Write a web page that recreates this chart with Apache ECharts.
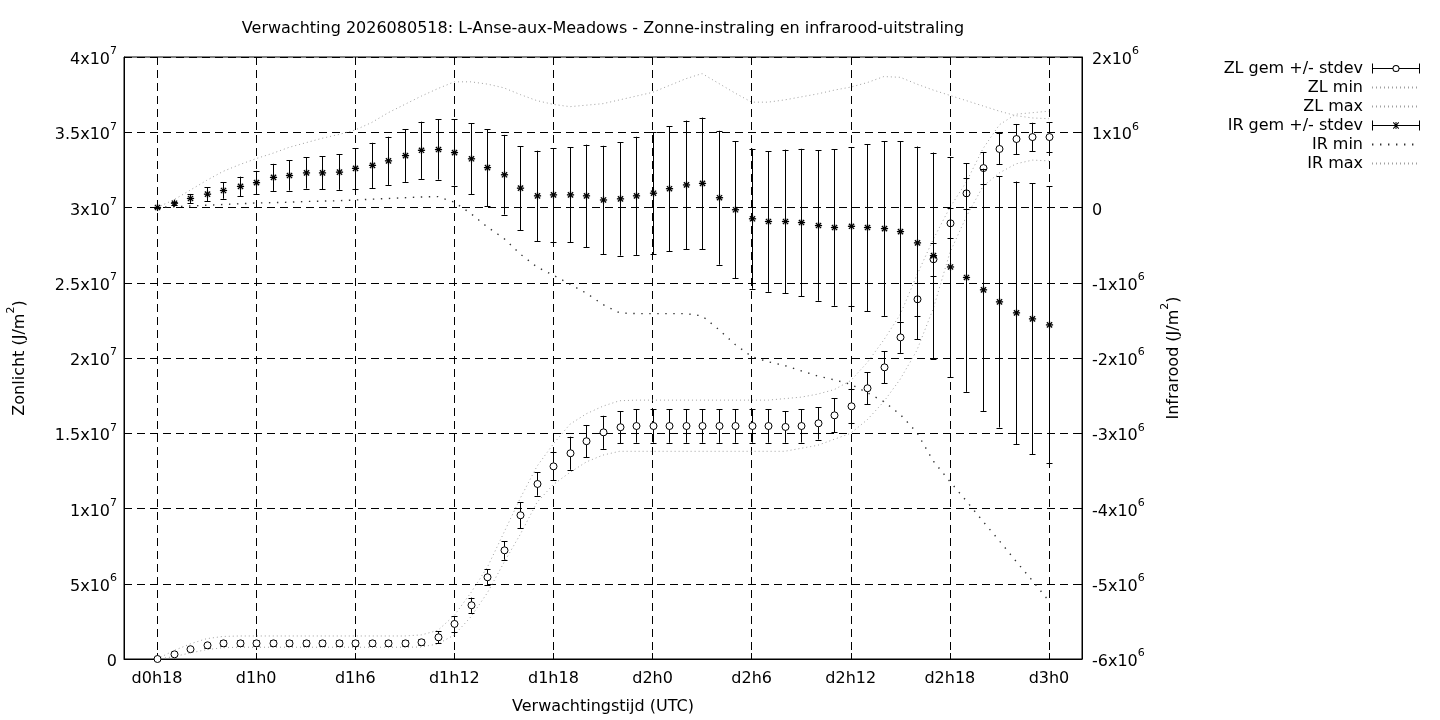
<!DOCTYPE html>
<html>
<head>
<meta charset="utf-8">
<script src="https://cdn.jsdelivr.net/npm/echarts@6/dist/echarts.min.js"></script>
<style>
html,body{margin:0;padding:0;background:#fff;}
#chart{width:1440px;height:720px;}
</style>
</head>
<body>
<div id="chart"></div>
<script>
// ---- data (ZL in 1e6 J/m2, IR in 1e6 J/m2) ----
const tickLabels = ['d0h18','d1h0','d1h6','d1h12','d1h18','d2h0','d2h6','d2h12','d2h18','d3h0'];

const zlMean = [0, 0.31, 0.65, 0.91, 1.04, 1.04, 1.04, 1.04, 1.04, 1.04,
  1.04, 1.04, 1.04, 1.04, 1.04, 1.04, 1.11, 1.44, 2.33, 3.57,
  5.43, 7.22, 9.55, 11.63, 12.8, 13.67, 14.47, 15.06, 15.4, 15.48,
  15.48, 15.48, 15.48, 15.48, 15.48, 15.48, 15.48, 15.48, 15.42, 15.48,
  15.66, 16.19, 16.79, 17.99, 19.38, 21.37, 23.9, 26.56, 28.95, 30.94,
  32.62, 33.89, 34.55, 34.68, 34.68];
const zlStd = [0, 0.03, 0.08, 0.15, 0.19, 0.19, 0.19, 0.19, 0.19, 0.19,
  0.19, 0.19, 0.19, 0.19, 0.19, 0.19, 0.21, 0.41, 0.52, 0.51,
  0.53, 0.62, 0.86, 0.78, 0.93, 1.1, 1.08, 1.1, 1.05, 1.11,
  1.11, 1.11, 1.11, 1.11, 1.11, 1.11, 1.11, 1.11, 1.05, 1.1,
  1.08, 1.14, 1.14, 1.06, 1.06, 1.03, 1.08, 1.08, 1.0, 1.02,
  1.07, 1.03, 1.0, 0.95, 0.97];
const zlMin = [0, 0.15, 0.4, 0.62, 0.75, 0.78, 0.78, 0.78, 0.78, 0.78,
  0.78, 0.78, 0.78, 0.78, 0.78, 0.78, 0.8, 1.0, 1.6, 2.8,
  4.4, 6.4, 8.3, 10.4, 11.6, 12.4, 13.1, 13.55, 13.8, 13.8,
  13.8, 13.8, 13.8, 13.8, 13.8, 13.8, 13.8, 13.8, 13.8, 14.0,
  14.2, 14.6, 15.0, 15.9, 17.1, 18.6, 20.5, 23.3, 27.0, 29.4,
  31.4, 32.3, 32.9, 33.15, 33.1];
const zlMax = [0, 0.55, 1.0, 1.35, 1.5, 1.53, 1.53, 1.53, 1.53, 1.53,
  1.53, 1.53, 1.53, 1.53, 1.53, 1.53, 1.6, 1.9, 2.9, 4.4,
  6.1, 8.4, 10.7, 12.8, 14.3, 15.6, 16.3, 16.8, 17.16, 17.2,
  17.2, 17.2, 17.2, 17.2, 17.2, 17.2, 17.2, 17.2, 17.3, 17.4,
  17.6, 17.9, 18.5, 19.7, 21.2, 22.9, 25.5, 27.9, 30.0, 31.7,
  33.9, 35.5, 36.2, 36.3, 36.4];

const irMean = [0, 0.057, 0.12, 0.177, 0.226, 0.28, 0.33, 0.40, 0.425, 0.46,
  0.46, 0.47, 0.52, 0.56, 0.62, 0.69, 0.76, 0.77, 0.73, 0.647,
  0.53, 0.435, 0.257, 0.155, 0.168, 0.168, 0.155, 0.10, 0.115, 0.155,
  0.19, 0.25, 0.30, 0.32, 0.13, -0.03, -0.15, -0.186, -0.186, -0.20,
  -0.24, -0.266, -0.25, -0.266, -0.28, -0.32, -0.47, -0.64, -0.79, -0.93,
  -1.094, -1.254, -1.40, -1.48, -1.56];
const irStd = [0, 0.02, 0.06, 0.09, 0.11, 0.13, 0.157, 0.18, 0.20, 0.21,
  0.22, 0.235, 0.27, 0.30, 0.32, 0.35, 0.38, 0.40, 0.44, 0.47,
  0.51, 0.53, 0.56, 0.60, 0.62, 0.63, 0.68, 0.72, 0.755, 0.785,
  0.81, 0.83, 0.855, 0.875, 0.89, 0.91, 0.93, 0.935, 0.955, 0.98,
  1.0, 1.04, 1.054, 1.11, 1.16, 1.2, 1.28, 1.37, 1.46, 1.52,
  1.61, 1.67, 1.745, 1.80, 1.84];
const irMin = [0, 0.01, 0.02, 0.03, 0.04, 0.05, 0.06, 0.065, 0.07, 0.08,
  0.085, 0.09, 0.10, 0.11, 0.12, 0.13, 0.14, 0.145, 0.07, -0.08,
  -0.26, -0.41, -0.62, -0.79, -0.90, -1.02, -1.14, -1.29, -1.40, -1.41,
  -1.41, -1.41, -1.41, -1.44, -1.62, -1.82, -1.98, -2.05, -2.10, -2.17,
  -2.24, -2.29, -2.35, -2.46, -2.58, -2.75, -2.99, -3.37, -3.64, -3.9,
  -4.17, -4.43, -4.70, -4.96, -5.23];
const irMax = [0, 0.1, 0.23, 0.36, 0.48, 0.57, 0.65, 0.72, 0.80, 0.86,
  0.92, 0.97, 1.03, 1.13, 1.26, 1.37, 1.48, 1.58, 1.67, 1.67,
  1.64, 1.59, 1.50, 1.42, 1.37, 1.34, 1.36, 1.38, 1.43, 1.48,
  1.53, 1.62, 1.71, 1.78, 1.65, 1.52, 1.40, 1.40, 1.43, 1.47,
  1.51, 1.56, 1.60, 1.66, 1.74, 1.73, 1.64, 1.56, 1.49, 1.42,
  1.35, 1.28, 1.22, 1.19, 1.18];

// ---- categories: hourly from d0h16 to d3h2 (axis padding two hours each side) ----
const categories = [];
for (let h = 16; h <= 74; h++) categories.push('d' + Math.floor(h / 24) + 'h' + (h % 24));
const times = categories.slice(2, 2 + zlMean.length);

const FONT = 'DejaVu Sans';
const FS = 16;
const showTick = (idx, val) => tickLabels.indexOf(val) >= 0;

function pairs(vals) { return times.map((t, i) => [t, vals[i]]); }
function bars(mean, sd) { return times.map((t, i) => [t, mean[i], mean[i] - sd[i], mean[i] + sd[i]]); }

function errorBarItem(marker) {
  return function (params, api) {
    const x = api.value(0);
    const c = api.coord([x, api.value(1)]);
    const lo = api.coord([x, api.value(2)]);
    const hi = api.coord([x, api.value(3)]);
    const px = Math.round(c[0]) + 0.5;
    const st = { stroke: '#000', lineWidth: 1, fill: null };
    const kids = [
      { type: 'line', shape: { x1: px, y1: hi[1], x2: px, y2: lo[1] }, style: st },
      { type: 'line', shape: { x1: px - 3, y1: Math.round(hi[1]) + 0.5, x2: px + 3, y2: Math.round(hi[1]) + 0.5 }, style: st },
      { type: 'line', shape: { x1: px - 3, y1: Math.round(lo[1]) + 0.5, x2: px + 3, y2: Math.round(lo[1]) + 0.5 }, style: st }
    ];
    const cy = c[1];
    if (marker === 'circle') {
      kids.push({ type: 'circle', shape: { cx: px, cy: cy, r: 3.5 }, style: { fill: '#fff', stroke: '#000', lineWidth: 1 } });
    } else {
      const s = 3.6, d = 2.6;
      const st2 = { stroke: '#000', lineWidth: 1.3, fill: null };
      kids.push({ type: 'line', shape: { x1: px - s, y1: cy, x2: px + s, y2: cy }, style: st2 });
      kids.push({ type: 'line', shape: { x1: px, y1: cy - s, x2: px, y2: cy + s }, style: st2 });
      kids.push({ type: 'line', shape: { x1: px - d, y1: cy - d, x2: px + d, y2: cy + d }, style: st2 });
      kids.push({ type: 'line', shape: { x1: px - d, y1: cy + d, x2: px + d, y2: cy - d }, style: st2 });
    }
    return { type: 'group', children: kids };
  };
}

function leftFmt(v) {
  if (v === 0) return '{n|0}';
  const exp = v >= 10 ? 7 : 6;
  const m = v / Math.pow(10, exp - 6);
  return '{n|' + m + 'x10}{s|' + exp + '}';
}
function rightFmt(v) {
  if (v === 0) return '{n|0}';
  return '{n|' + v + 'x10}{s|6}';
}
const richSup = {
  n: { fontSize: FS, fontFamily: FONT, color: '#000', lineHeight: 22, verticalAlign: 'bottom' },
  s: { fontSize: 11, fontFamily: FONT, color: '#000', lineHeight: 13, verticalAlign: 'top' }
};

const zlIcon = 'path://M0 0H1V10H0Z M47 0H48V10H47Z M0 4.5H20.6V5.5H0Z M27.4 4.5H48V5.5H27.4Z ' +
  'M27.5 5A3.5 3.5 0 1 1 20.5 5A3.5 3.5 0 1 1 27.5 5Z M26.5 5A2.5 2.5 0 1 0 21.5 5A2.5 2.5 0 1 0 26.5 5Z';
const irIcon = 'path://M0 0H1V10H0Z M47 0H48V10H47Z M0 4.5H48V5.5H0Z M23.5 1.4H24.5V8.6H23.5Z ' +
  'M20.9 2.3L21.6 1.6L27.1 7.7L26.4 8.4Z M26.4 1.6L27.1 2.3L21.6 8.4L20.9 7.7Z';

const dotGrey = { color: '#a0a0a0', width: 1, type: [1, 3] };
const dotDark = { color: '#333', width: 1.4, type: [1.4, 6.6] };
const noSymbol = { color: 'rgba(0,0,0,0)', borderWidth: 0, opacity: 0 };

const chart = echarts.init(document.getElementById('chart'), null, { renderer: 'canvas' });
chart.setOption({
  animation: false,
  backgroundColor: '#fff',
  textStyle: { fontFamily: FONT, color: '#000' },
  title: {
    text: 'Verwachting 2026080518: L-Anse-aux-Meadows - Zonne-instraling en infrarood-uitstraling',
    left: 598, top: 16, textAlign: 'center',
    textStyle: { fontSize: FS, fontWeight: 'normal', color: '#000', fontFamily: FONT }
  },
  legend: {
    orient: 'vertical', right: 14, top: 55, align: 'right',
    itemWidth: 48, itemHeight: 10, itemGap: 2,
    selectedMode: false,
    itemStyle: { borderWidth: 0 },
    textStyle: { fontSize: FS, color: '#000', fontFamily: FONT, lineHeight: 17, padding: [0, 4, 0, 0] },
    data: [
      { name: 'ZL gem +/- stdev', icon: zlIcon },
      { name: 'ZL min', itemStyle: noSymbol },
      { name: 'ZL max', itemStyle: noSymbol },
      { name: 'IR gem +/- stdev', icon: irIcon },
      { name: 'IR min', itemStyle: noSymbol },
      { name: 'IR max', itemStyle: noSymbol }
    ]
  },
  grid: { left: 124, right: 358, top: 57, bottom: 61, show: true, borderColor: '#000', borderWidth: 1,
    backgroundColor: 'transparent', containLabel: false, outerBoundsMode: 'none' },
  xAxis: {
    type: 'category', data: categories, boundaryGap: false,
    axisLine: { lineStyle: { color: '#000', width: 1 } },
    axisTick: { show: true, inside: true, length: 6, interval: showTick, lineStyle: { color: '#000' } },
    axisLabel: { interval: showTick, margin: 12, fontSize: FS, color: '#000', fontFamily: FONT },
    splitLine: { show: true, interval: showTick, lineStyle: { color: '#000', width: 1, type: [8, 5] } },
    name: 'Verwachtingstijd (UTC)', nameLocation: 'middle', nameGap: 40,
    nameTextStyle: { fontSize: FS, color: '#000', fontFamily: FONT }
  },
  yAxis: [
    {
      type: 'value', min: 0, max: 40, interval: 5, position: 'left',
      axisLine: { show: true, lineStyle: { color: '#000' } },
      axisTick: { show: true, inside: true, length: 6, lineStyle: { color: '#000' } },
      axisLabel: { formatter: leftFmt, rich: richSup, margin: 7 },
      splitLine: { show: true, lineStyle: { color: '#000', width: 1, type: [8, 5] } },
      name: '{n|Zonlicht (J/m}{s|2}{n|)}', nameLocation: 'middle', nameGap: 96,
      nameTextStyle: { rich: richSup }
    },
    {
      type: 'value', min: -6, max: 2, interval: 1, position: 'right',
      axisLine: { show: true, lineStyle: { color: '#000' } },
      axisTick: { show: true, inside: true, length: 6, lineStyle: { color: '#000' } },
      axisLabel: { formatter: rightFmt, rich: richSup, margin: 10 },
      splitLine: { show: false },
      name: '{n|Infrarood (J/m}{s|2}{n|)}', nameLocation: 'middle', nameGap: 78,
      nameTextStyle: { rich: richSup }
    }
  ],
  series: [
    { name: 'ZL min', type: 'line', yAxisIndex: 0, data: pairs(zlMin), symbol: 'none', lineStyle: dotGrey, itemStyle: { color: '#a0a0a0' }, z: 2, silent: true },
    { name: 'ZL max', type: 'line', yAxisIndex: 0, data: pairs(zlMax), symbol: 'none', lineStyle: dotGrey, itemStyle: { color: '#a0a0a0' }, z: 2, silent: true },
    { name: 'IR min', type: 'line', yAxisIndex: 1, data: pairs(irMin), symbol: 'none', lineStyle: dotDark, itemStyle: { color: '#333' }, z: 2, silent: true },
    { name: 'IR max', type: 'line', yAxisIndex: 1, data: pairs(irMax), symbol: 'none', lineStyle: dotGrey, itemStyle: { color: '#a0a0a0' }, z: 2, silent: true },
    { name: 'ZL gem +/- stdev', type: 'custom', yAxisIndex: 0, data: bars(zlMean, zlStd), encode: { x: 0, y: [1, 2, 3] }, renderItem: errorBarItem('circle'), itemStyle: { color: '#000' }, z: 3, silent: true },
    { name: 'IR gem +/- stdev', type: 'custom', yAxisIndex: 1, data: bars(irMean, irStd), encode: { x: 0, y: [1, 2, 3] }, renderItem: errorBarItem('star'), itemStyle: { color: '#000' }, z: 3, silent: true }
  ]
});
</script>
</body>
</html>
